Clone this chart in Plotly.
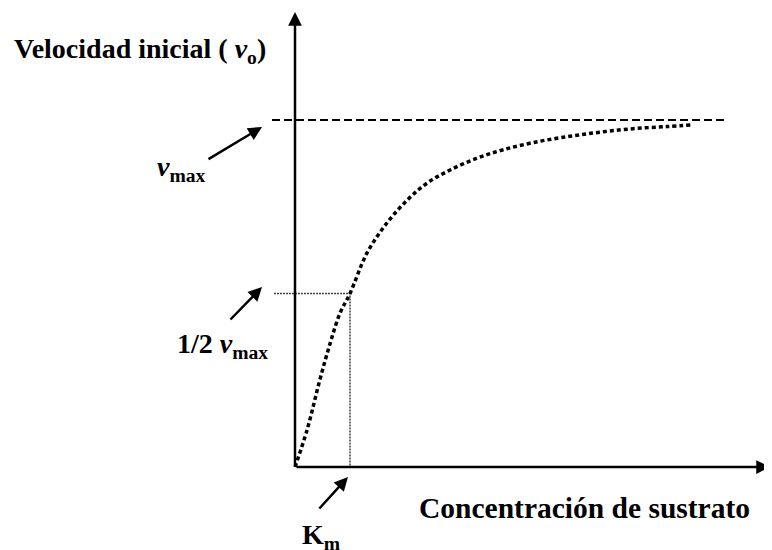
import plotly.graph_objects as go

# ─────────────────────────────────────────
# DATOS (Km = 1, Vmax = 1)
# ─────────────────────────────────────────
sustrato = [0, 0.22, 0.45, 0.64, 0.82, 1.0, 1.31, 1.67, 2.04, 2.40, 2.82,
            3.31, 3.78, 4.33, 4.95, 5.55, 6.15, 6.76, 7.24]
velocidad = [0, 0.107, 0.25, 0.357, 0.444, 0.5, 0.617, 0.703, 0.769, 0.818,
             0.856, 0.890, 0.914, 0.935, 0.952, 0.965, 0.975, 0.981, 0.986]
VMAX = 1.0
KM = 1.0

titulo_y = "Velocidad inicial ( <i>v</i><sub>o</sub>)"
titulo_x = "Concentración de sustrato"
etiqueta_vmax = "<i>v</i><sub>max</sub>"
etiqueta_media = "1/2 <i>v</i><sub>max</sub>"
etiqueta_km = "K<sub>m</sub>"

W, H = 772, 550
OFF = 8                    # margen del body de la página
X0, Y0 = 295, 467          # origen en píxeles de pantalla
SX, SY = 55, 347           # píxeles por unidad


def px(x):
    return (x - X0) / SX


def py(y):
    return (Y0 - y) / SY


def fuente(size):
    return dict(family="Liberation Serif", size=size, color="black")


fig = go.Figure()

# línea de Vmax (discontinua)
fig.add_trace(go.Scatter(
    x=[px(272), px(727)], y=[VMAX, VMAX], mode="lines",
    line=dict(color="black", width=2, dash="8px,4px"),
))
# guías de Km y Vmax/2
fig.add_trace(go.Scatter(
    x=[px(274), KM, KM], y=[VMAX / 2, VMAX / 2, 0], mode="lines",
    line=dict(color="#444", width=1.5, dash="2px,1px"),
))
# curva de Michaelis-Menten
fig.add_trace(go.Scatter(
    x=sustrato, y=velocidad, mode="lines",
    line=dict(color="black", width=3.5, dash="4px,3px", shape="spline"),
))

anot = []
# ejes con flecha
for (hx, hy) in [(px(770), 0), (0, py(12))]:
    anot.append(dict(
        x=hx, y=hy, ax=0, ay=0, xref="x", yref="y", axref="x", ayref="y",
        text="", showarrow=True, arrowhead=2, arrowsize=1.1, arrowwidth=2.5,
        arrowcolor="black",
    ))
# flechas de las etiquetas
for (tx, ty, hx, hy) in [(207, 160, 262, 127), (229, 321, 262, 287), (318, 510, 348, 477)]:
    anot.append(dict(
        x=px(hx), y=py(hy), ax=px(tx), ay=py(ty),
        xref="x", yref="y", axref="x", ayref="y",
        text="", showarrow=True, arrowhead=2, arrowsize=1.1, arrowwidth=2.5,
        arrowcolor="black",
    ))
# textos (posición en píxeles de pantalla)
for (txt, x, y, s) in [(titulo_y, 12, 50, 28), (etiqueta_vmax, 155, 168, 28),
                       (etiqueta_media, 175, 345, 28), (etiqueta_km, 300, 536, 28),
                       (titulo_x, 417, 508, 29.5)]:
    anot.append(dict(
        x=(x - OFF) / W, y=1 - (y - OFF) / H, xref="paper", yref="paper",
        xanchor="left", yanchor="middle", showarrow=False,
        text=f"<b>{txt}</b>", font=fuente(s),
    ))

fig.update_layout(
    width=W, height=H,
    margin=dict(l=0, r=0, t=0, b=0),
    plot_bgcolor="white", paper_bgcolor="white",
    showlegend=False,
    xaxis=dict(visible=False, range=[px(OFF), px(OFF + W)]),
    yaxis=dict(visible=False, range=[py(OFF + H), py(OFF)]),
    annotations=anot,
)

fig.write_html("out.html")
